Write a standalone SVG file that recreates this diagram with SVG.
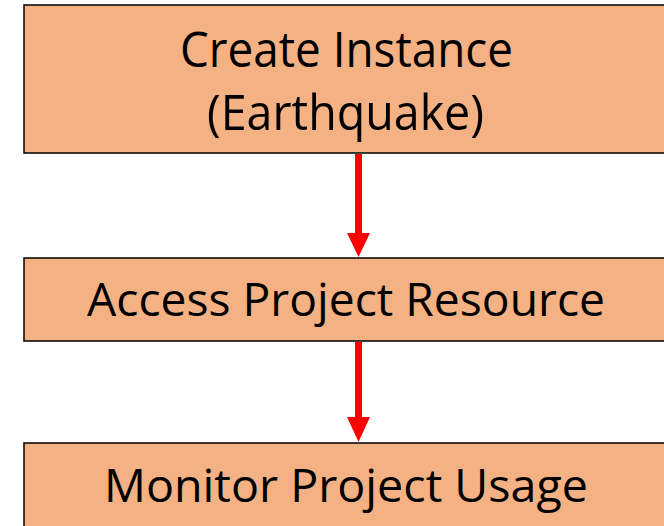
<svg xmlns="http://www.w3.org/2000/svg" width="664" height="526" viewBox="0 0 664 526">
<style>
.box{fill:#F4B183;stroke:#000;stroke-width:1.5}
.t{font-family:"Open Sans","Liberation Sans",sans-serif;fill:#000;text-anchor:start}
.c{stroke:#FF0000;stroke-width:7;fill:none}
.h{fill:#FF0000}
</style>
<rect width="664" height="526" fill="#fff"/>
<g id="node-create">
<rect class="box" x="24" y="5" width="680" height="148"/>
<text class="t" x="180" y="67" font-size="50" textLength="333" lengthAdjust="spacingAndGlyphs">Create Instance</text>
<text class="t" x="207" y="130" font-size="50" textLength="277" lengthAdjust="spacingAndGlyphs">(Earthquake)</text>
</g>
<g id="node-access">
<rect class="box" x="24" y="258" width="680" height="83"/>
<text class="t" x="87" y="316" font-size="46" textLength="518" lengthAdjust="spacingAndGlyphs">Access Project Resource</text>
</g>
<g id="node-monitor">
<rect class="box" x="24" y="443" width="680" height="100"/>
<text class="t" x="104" y="502" font-size="46" textLength="484" lengthAdjust="spacingAndGlyphs">Monitor Project Usage</text>
</g>
<g id="connectors">
<line class="c" x1="358.5" y1="154" x2="358.5" y2="236"/>
<polygon class="h" points="347,233 370,233 358.5,257"/>
<line class="c" x1="358.5" y1="342" x2="358.5" y2="420"/>
<polygon class="h" points="347,417 370,417 358.5,442"/>
</g>
</svg>
